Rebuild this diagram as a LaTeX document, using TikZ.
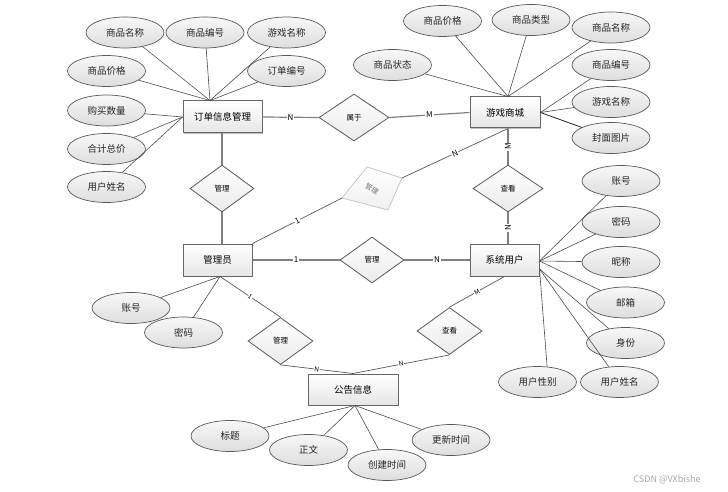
\documentclass[tikz,border=0pt]{standalone}
\usepackage{fontspec}
\setmainfont{Noto Sans CJK SC}
\usetikzlibrary{shapes.geometric,shadows}
\begin{document}
\begin{tikzpicture}[x=1pt,y=-1pt,
 ent/.style={draw=black!60,line width=1pt,top color=white,bottom color=black!10,inner sep=0pt,font=\fontsize{9.5}{11}\selectfont,drop shadow={shadow xshift=1pt,shadow yshift=-1pt,opacity=0.25,fill=black}},
 attr/.style={ellipse,draw=black!65,line width=0.7pt,top color=black!3,bottom color=black!13,minimum width=78pt,minimum height=31pt,inner sep=0pt,font=\fontsize{9.5}{11}\selectfont,text=black!85},
 rel/.style={diamond,draw=black!65,line width=0.8pt,top color=white,bottom color=black!8,minimum width=65pt,minimum height=47pt,inner sep=0pt,font=\fontsize{7.5}{9}\selectfont},
 aline/.style={draw=black!70,line width=0.6pt},
 rline/.style={draw=black!50,line width=1.2pt},
 tline/.style={draw=black!65,line width=0.7pt},
 lab/.style={fill=white,inner sep=0.8pt,font=\fontsize{8}{9}\selectfont},
 slab/.style={fill=white,inner sep=0.5pt,font=\fontsize{6.5}{7}\selectfont,sloped},
]
\useasboundingbox (0,0) rectangle (728,492);

% entities
\node[ent,minimum width=79pt,minimum height=32pt] (oi) at (222.5,117) {订单信息管理};
\node[ent,minimum width=70pt,minimum height=31pt] (gm) at (505,112.5) {游戏商城};
\node[ent,minimum width=69pt,minimum height=32pt] (ad) at (217.5,260) {管理员};
\node[ent,minimum width=69pt,minimum height=32pt] (us) at (504.5,260) {系统用户};
\node[ent,minimum width=90pt,minimum height=31pt] (gg) at (353,389.5) {公告信息};

% relationships
\node[rel,minimum width=70pt] (r1) at (354,117.5) {属于};
\node[rel,minimum width=64pt] (r2) at (222,188.5) {管理};
\node[rel,minimum width=70pt] (r4) at (508,188.5) {查看};
\node[rel,minimum width=64pt,minimum height=46pt] (r5) at (372,260) {管理};
\node[rel] (r6) at (280.5,341) {管理};
\node[rel] (r7) at (449.5,331) {查看};

% faded relationship
\coordinate (fdL) at (342,198);
\coordinate (fdT) at (367,167);
\coordinate (fdR) at (402,178);
\coordinate (fdB) at (388,210);
\path[draw=black!22,line width=0.8pt,top color=white,bottom color=black!6] (fdL) -- (fdT) -- (fdR) -- (fdB) -- cycle;
\node[rotate=-30,inner sep=0pt,text=black!55,font=\fontsize{7}{8}\selectfont] (fd) at (372,189) {管理};

% attributes of 订单信息管理
\node[attr] (a1) at (125,32.5) {商品名称};
\node[attr] (a2) at (205,32.5) {商品编号};
\node[attr] (a3) at (286.5,32.5) {游戏名称};
\node[attr] (a4) at (286.5,71) {订单编号};
\node[attr] (a5) at (106.5,71) {商品价格};
\node[attr] (a6) at (106.5,110.5) {购买数量};
\node[attr] (a7) at (106.5,149) {合计总价};
\node[attr] (a8) at (106.5,187) {用户姓名};

% attributes of 游戏商城
\node[attr] (b1) at (392.5,65) {商品状态};
\node[attr] (b2) at (442.5,21) {商品价格};
\node[attr] (b3) at (531,20) {商品类型};
\node[attr] (b4) at (611,27.5) {商品名称};
\node[attr] (b5) at (611,65) {商品编号};
\node[attr] (b6) at (611,102) {游戏名称};
\node[attr] (b7) at (611,138) {封面图片};

% attributes of 系统用户
\node[attr] (c1) at (621,181) {账号};
\node[attr] (c2) at (621,222) {密码};
\node[attr] (c3) at (621,262) {昵称};
\node[attr] (c4) at (625.5,302.5) {邮箱};
\node[attr] (c5) at (625.5,343) {身份};
\node[attr] (c6) at (619.5,382) {用户姓名};
\node[attr] (c7) at (537.5,382) {用户性别};

% attributes of 管理员
\node[attr] (d1) at (131,308) {账号};
\node[attr] (d2) at (183.5,332.5) {密码};

% attributes of 公告信息
\node[attr] (e1) at (230,436) {标题};
\node[attr] (e2) at (308.5,450) {正文};
\node[attr] (e3) at (387,465) {创建时间};
\node[attr] (e4) at (451,440) {更新时间};

% convergence points
\coordinate (oiT) at ([xshift=-12.5pt]oi.north);
\coordinate (gmT) at ([xshift=3pt]gm.north);
\coordinate (gmB) at ([xshift=3pt]gm.south);
\coordinate (usT) at ([xshift=3.5pt]us.north);
\coordinate (usR) at ([yshift=-1pt]us.east);
\coordinate (usRb) at ([yshift=-9pt]us.east);
\coordinate (adB) at ([xshift=2.5pt]ad.south);
\coordinate (ggB) at ([xshift=2pt]gg.south);

% attribute connectors
\foreach \a in {a1,a2,a3,a4,a5} \draw[aline] (\a) -- (oiT);
\foreach \a in {a6,a7,a8} \draw[aline] (\a) -- (oi.west);
\foreach \a in {b1,b2,b3,b4} \draw[aline] (\a) -- (gmT);
\foreach \a in {b5,b6} \draw[aline] (\a) -- (gm.east);
\draw[draw=black!85,line width=0.8pt] (b7) -- (gm.east);
\foreach \a in {c1,c2,c3,c4} \draw[aline] (\a) -- (usR);
\foreach \a in {c5,c6} \draw[aline] (\a) -- (usRb);
\draw[aline] (c7.58) -- (usRb);
\foreach \a in {d1,d2} \draw[aline] (\a) -- (adB);
\foreach \a in {e1,e2,e3,e4} \draw[aline] (\a) -- (ggB);

% relationship connectors
\draw[rline] (oi.east) -- node[lab] {N} (r1.west);
\draw[rline] (r1.east) -- node[lab] {M} (gm.west);
\draw[rline] (oi.south -| r2.north) -- (r2.north);
\draw[rline] (r2.south) -- (r2.south |- ad.north);
\draw[tline] (ad.north east) -- node[lab,sloped] {1} (fdL);
\draw[tline] (fdR) -- node[lab,sloped] {N} (gmB);
\draw[rline] (gmB) -- node[lab,rotate=90] {M} (r4.north);
\draw[rline] (r4.south) -- node[lab,rotate=90] {N} (usT);
\draw[rline] (ad.east) -- node[lab] {1} (r5.west);
\draw[rline] (r5.east) -- node[lab] {N} (us.west);
\draw[tline] (adB) -- node[slab] {1} (r6.north);
\draw[tline] (r6.south) -- node[slab] {N} (gg.north);
\draw[tline] (us.south) -- node[slab] {M} (r7.north);
\draw[tline] (r7.south) -- node[slab] {N} (gg.north);

% watermark
\node[text=black!35,font=\fontsize{9}{10}\selectfont] (wm) at (667,480) {CSDN @VXbishe};
\end{tikzpicture}
\end{document}
